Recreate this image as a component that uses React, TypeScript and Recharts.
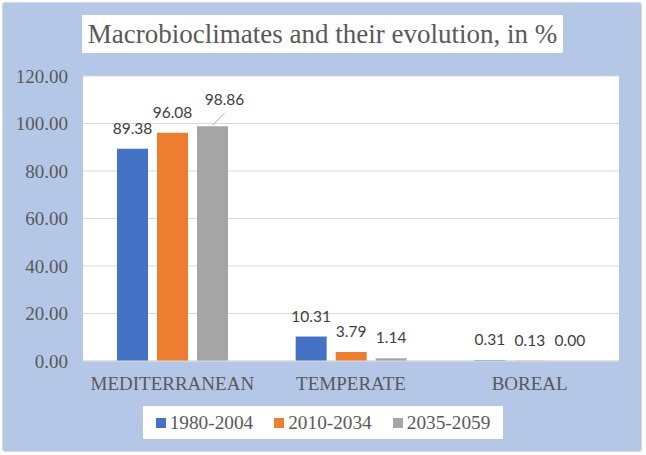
import { BarChart, Bar, XAxis, YAxis, CartesianGrid, Legend, LabelList } from 'recharts'

// categories and values
const categories = ['MEDITERRANEAN', 'TEMPERATE', 'BOREAL']
const period1980 = [89.38, 10.31, 0.31]
const period2010 = [96.08, 3.79, 0.13]
const period2035 = [98.86, 1.14, 0.0]
const seriesNames = ['1980-2004', '2010-2034', '2035-2059']
const seriesColors = ['#4472c4', '#ed7d31', '#a5a5a5']
const yTicks = [0, 20, 40, 60, 80, 100, 120]

const data = categories.map((name, i) => ({
  name,
  s0: period1980[i],
  s1: period2010[i],
  s2: period2035[i],
}))

const SERIF = "'Liberation Serif', 'Times New Roman', serif"
const SANS = "Lato, 'Noto Sans', sans-serif"

// Excel-like data label; the tallest label is pushed up with a leader line
function makeLabel(seriesIdx: number) {
  return function ValueLabel(props: any) {
    const { x, y, width, height, value, index } = props
    const cx = Number(x) + Number(width) / 2
    // zero bars get a tiny min size, so use the baseline (y + height)
    const top = Math.min(Number(y), Number(y) + Number(height))
    const text = Number(value).toFixed(2)
    if (seriesIdx === 2 && index === 0) {
      return (
        <g>
          <line x1={cx} y1={top - 1} x2={cx + 12} y2={top - 13} stroke="#a6a6a6" strokeWidth={1} />
          <text x={cx + 12} y={top - 21} textAnchor="middle" fontFamily={SANS} fontSize={15.5} fill="#404040">
            {text}
          </text>
        </g>
      )
    }
    return (
      <text x={cx} y={top - 15} textAnchor="middle" fontFamily={SANS} fontSize={15.5} fill="#404040">
        {text}
      </text>
    )
  }
}

function LegendBox() {
  return (
    <div
      style={{
        display: 'flex',
        alignItems: 'center',
        justifyContent: 'center',
        height: '100%',
        background: '#fff',
        fontFamily: SERIF,
        fontSize: 19.3,
        color: '#595959',
      }}
    >
      {seriesNames.map((name, i) => (
        <div key={name} style={{ display: 'flex', alignItems: 'center', marginRight: i < 2 ? 21 : 0 }}>
          <span style={{ width: 10, height: 10, background: seriesColors[i], marginRight: 4, display: 'inline-block' }} />
          <span>{name}</span>
        </div>
      ))}
    </div>
  )
}

export default function App() {
  return (
    <div style={{ position: 'absolute', left: 0, top: 0, width: 646, height: 455 }}>
      <div
        style={{
          position: 'absolute',
          left: 2,
          top: 2,
          width: 638,
          height: 448,
          background: '#b4c7e7',
          border: '1px solid #d9d9d9',
          borderRadius: 3,
        }}
      />
      <div
        style={{
          position: 'absolute',
          left: 82,
          top: 15,
          width: 481,
          height: 38,
          background: '#fff',
          fontFamily: SERIF,
          fontSize: 27,
          color: '#595959',
          textAlign: 'center',
          lineHeight: '38px',
          whiteSpace: 'nowrap',
        }}
      >
        Macrobioclimates and their evolution, in %
      </div>
      <div style={{ position: 'absolute', left: 0, top: 0 }}>
        <BarChart
          width={646}
          height={455}
          data={data}
          margin={{ top: 76, right: 27, bottom: 54, left: 0 }}
          barSize={31}
          barGap={9}
        >
          <CartesianGrid vertical={false} stroke="#d9d9d9" fill="#ffffff" fillOpacity={1} />
          <XAxis
            dataKey="name"
            height={40}
            tickLine={false}
            tickSize={0}
            tickMargin={16}
            axisLine={{ stroke: '#d9d9d9' }}
            tick={{ fontFamily: SERIF, fontSize: 19, fill: '#595959' }}
          />
          <YAxis
            width={83}
            domain={[0, 120]}
            ticks={yTicks}
            tickFormatter={(v: number) => v.toFixed(2)}
            axisLine={false}
            tickLine={false}
            tickSize={0}
            tickMargin={15}
            tick={{ fontFamily: SERIF, fontSize: 19, fill: '#595959' }}
          />
          <Legend
            layout="horizontal"
            verticalAlign="middle"
            align="center"
            wrapperStyle={{ left: 143, top: 406, width: 360, height: 33 }}
            content={() => <LegendBox />}
          />
          {['s0', 's1', 's2'].map((key, i) => (
            <Bar
              key={key}
              dataKey={key}
              name={seriesNames[i]}
              fill={seriesColors[i]}
              minPointSize={0.01}
              isAnimationActive={false}
            >
              <LabelList dataKey={key} content={makeLabel(i)} />
            </Bar>
          ))}
        </BarChart>
      </div>
    </div>
  )
}
